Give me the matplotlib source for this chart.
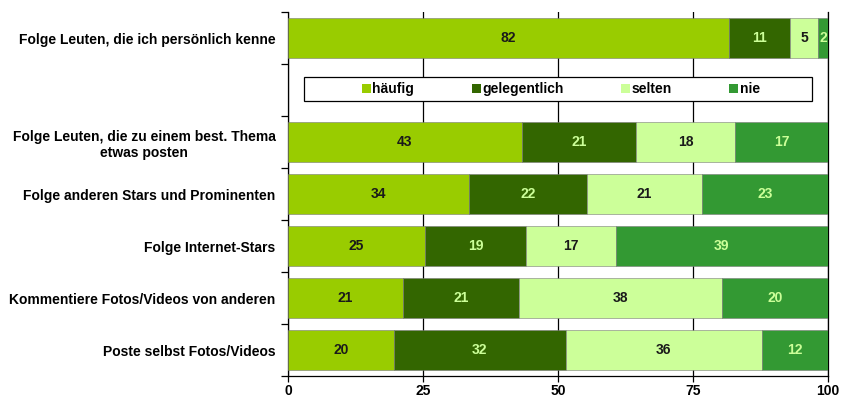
import matplotlib
matplotlib.use("Agg")
import matplotlib.pyplot as plt
from matplotlib.patches import Patch, Rectangle
import numpy as np

plt.rcParams['font.family'] = ['Liberation Sans', 'DejaVu Sans']

categories = [
    "Folge Leuten, die ich persönlich kenne",
    "Folge Leuten, die zu einem best. Thema\netwas posten",
    "Folge anderen Stars und Prominenten",
    "Folge Internet-Stars",
    "Kommentiere Fotos/Videos von anderen",
    "Poste selbst Fotos/Videos",
]
series = ["häufig", "gelegentlich", "selten", "nie"]
haeufig = [81.6, 43.3, 33.6, 25.4, 21.3, 19.6]
gelegentlich = [11.4, 21.2, 21.7, 18.6, 21.4, 31.8]
selten = [5.1, 18.3, 21.4, 16.7, 37.6, 36.4]
nie = [1.9, 17.2, 23.3, 39.3, 19.7, 12.2]
xticks = [0, 25, 50, 75, 100]

colors = ["#99CC00", "#336600", "#CCFF99", "#339933"]
txt_colors = ["#1a1a1a", "#CCFF99", "#1a1a1a", "#CCFF99"]
ypos = [0, 2, 3, 4, 5, 6]
FS = 10

fig = plt.figure(figsize=(8.41, 4.0), dpi=100)
ax = fig.add_axes([288/841, 24/400, 540/841, 364/400])

data = [haeufig, gelegentlich, selten, nie]
left = np.zeros(len(categories))
for vals, c, tc, name in zip(data, colors, txt_colors, series):
    vals = np.array(vals)
    bars = ax.barh(ypos, vals, left=left, height=0.77, color=c,
                   edgecolor="#7a7a7a", linewidth=0.4, zorder=3, label=name)
    for b, v, l in zip(bars, vals, left):
        ax.text(l + v / 2, b.get_y() + b.get_height() / 2, f"{v:.0f}",
                ha="center", va="center", color=tc, fontsize=FS,
                fontweight="bold", zorder=4)
    left = left + vals

ax.set_xlim(0, 100)
ax.set_ylim(6.5, -0.5)
ax.set_xticks(xticks)
ax.set_xticklabels([str(t) for t in xticks], fontsize=FS, fontweight="bold")
ax.set_yticks(ypos)
ax.set_yticklabels(categories, fontsize=FS, fontweight="bold")
for lbl in ax.get_yticklabels():
    lbl.set_multialignment("center")
ax.set_yticks(np.arange(-0.5, 7.0, 1.0), minor=True)
ax.tick_params(axis="y", which="major", length=0, pad=9)
ax.tick_params(axis="y", which="minor", length=5, direction="out", width=0.9)
ax.tick_params(axis="x", which="major", length=4, direction="out", width=0.9, pad=2)

ax.spines["top"].set_visible(False)
for s in ["left", "bottom", "right"]:
    ax.spines[s].set_linewidth(0.9)
    ax.spines[s].set_color("black")

ax.set_axisbelow(True)
ax.xaxis.grid(True, color="black", linewidth=0.9, zorder=0)

# legend box
ax.add_patch(Rectangle((2.96, 0.75), 97.1 - 2.96, 0.47, facecolor="white",
                       edgecolor="black", linewidth=0.9, zorder=3))
handles = [Patch(facecolor=c, edgecolor="none") for c in colors]
bx = ((2.96 + 97.1) / 2 + 0.5) / 100
by = 1 - (0.985 + 0.5) / 7
leg = ax.legend(handles, series, loc="center", bbox_to_anchor=(bx, by),
                ncol=4, frameon=False,
                prop={"weight": "bold", "size": FS},
                handlelength=0.65, handleheight=0.65, handletextpad=0.1,
                columnspacing=4.15, borderpad=0)
leg.set_zorder(5)

fig.savefig("out.png", dpi=100)
